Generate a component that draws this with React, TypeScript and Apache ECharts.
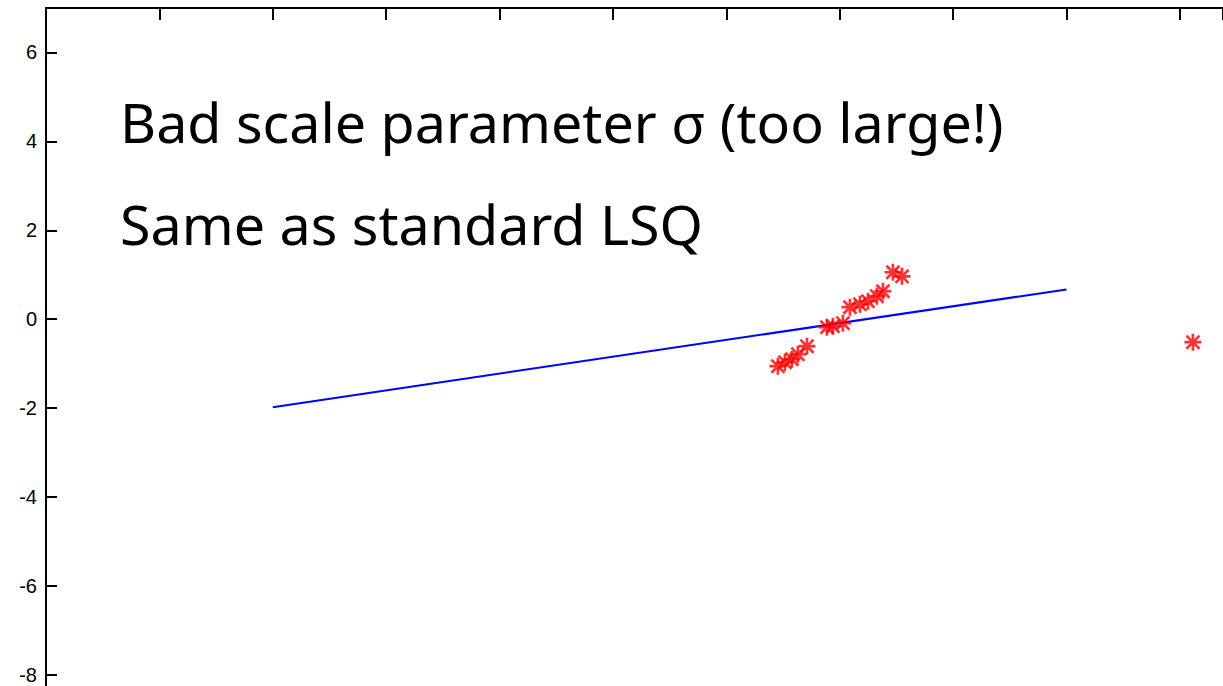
import React, { useEffect, useRef } from "react";
import * as echarts from "echarts";

const fitX = [2, 9];
const fitY = [-1.98, 0.67];

const dataX = [6.455, 6.517, 6.578, 6.631, 6.711, 6.887, 6.94, 7.028, 7.09, 7.178, 7.249, 7.328, 7.381, 7.469, 7.549, 10.115];
const dataY = [-1.056, -0.966, -0.899, -0.787, -0.607, -0.18, -0.157, -0.09, 0.27, 0.337, 0.404, 0.517, 0.629, 1.056, 0.966, -0.517];

const yTicks = [-8, -6, -4, -2, 0, 2, 4, 6];
const titleLines = ["Bad scale parameter σ (too large!)", "Same as standard LSQ"];

const STAR =
  "path://M0,42L100,42L100,58L0,58Z M42,0L58,0L58,100L42,100Z M17,6L94,83L83,94L6,17Z M83,6L94,17L17,94L6,83Z";

export default function App() {
  const ref = useRef<HTMLDivElement>(null);
  useEffect(() => {
    document.body.style.margin = "0";
    const chart = echarts.init(ref.current!, null, { renderer: "svg" });
    chart.setOption({
      animation: false,
      backgroundColor: "#ffffff",
      grid: { left: 46, top: 8, right: 0, bottom: 0, containLabel: false },
      xAxis: {
        type: "value",
        position: "top",
        min: 0,
        max: 10.38,
        interval: 1,
        axisLine: { show: true, onZero: false, lineStyle: { color: "#000", width: 2 } },
        axisTick: { show: true, inside: true, length: 12, lineStyle: { color: "#000", width: 2 } },
        axisLabel: { show: false },
        splitLine: { show: false },
      },
      yAxis: {
        type: "value",
        min: -8.25,
        max: 7,
        axisLine: { show: true, onZero: false, lineStyle: { color: "#000", width: 2 } },
        axisTick: { show: true, inside: true, length: 11, customValues: yTicks, lineStyle: { color: "#000", width: 2 } },
        axisLabel: {
          show: true,
          customValues: yTicks,
          color: "#000",
          fontSize: 20,
          fontFamily: "Liberation Sans",
          margin: 9,
          showMaxLabel: true,
          showMinLabel: true,
        },
        splitLine: { show: false },
      },
      series: [
        {
          type: "line",
          data: fitX.map((x, i) => [x, fitY[i]]),
          showSymbol: false,
          symbol: "none",
          lineStyle: { color: "#0000ff", width: 2 },
          z: 2,
        },
        {
          type: "scatter",
          data: dataX.map((x, i) => [x, dataY[i]]),
          symbol: STAR,
          symbolSize: 17,
          itemStyle: { color: "#ff0000" },
          z: 3,
        },
      ],
      graphic: titleLines.map((t, i) => ({
        type: "text",
        left: 120,
        top: 93 + i * 102,
        style: { text: t, fontSize: 55.6, fontFamily: "Noto Sans", fill: "#000" },
        z: 10,
      })),
    });
    return () => chart.dispose();
  }, []);
  return <div ref={ref} style={{ position: "fixed", left: 0, top: 0, width: 1223, height: 686 }} />;
}
